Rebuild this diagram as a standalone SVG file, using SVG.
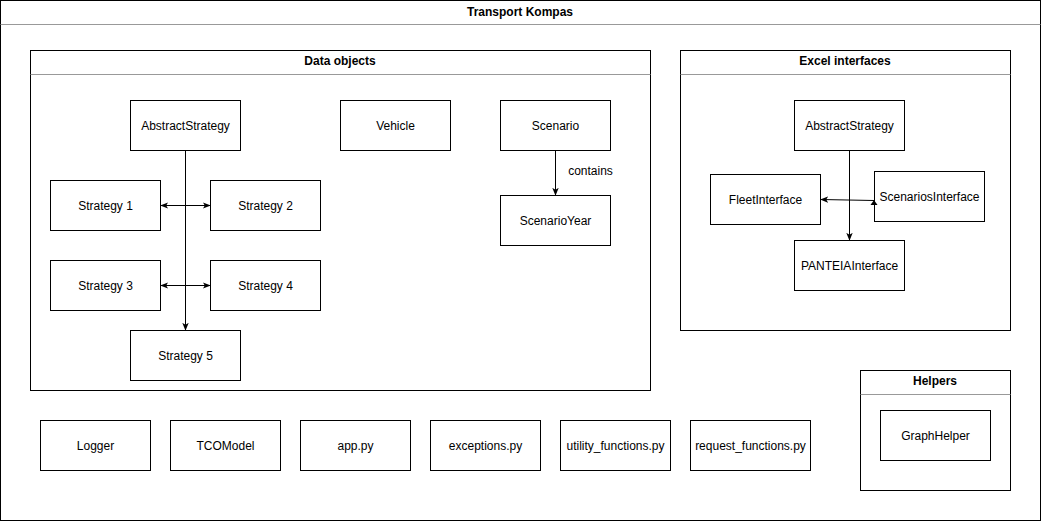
<svg xmlns="http://www.w3.org/2000/svg" width="1041" height="521" viewBox="0 0 1041 521">
<style>
.box{fill:#fff;stroke:#000;stroke-width:1}
.sep{stroke:#999;stroke-width:1}
.t{font-family:"Liberation Sans",Arial,sans-serif;font-size:12px;fill:#000;text-anchor:middle;dominant-baseline:central}
.b{font-weight:bold}
.c{fill:none;stroke:#000;stroke-width:1}
</style>
<defs>
<marker id="ah" viewBox="0 0 10 10" refX="9" refY="5" markerWidth="8" markerHeight="8" markerUnits="userSpaceOnUse" orient="auto-start-reverse">
<path d="M0,1 L10,5 L0,9 L2.5,5 Z" fill="#000"/>
</marker>
</defs>
<rect width="1041" height="521" fill="#fff"/>
<g id="transport-kompas">
<rect class="box" x="0.5" y="0.5" width="1040" height="520"/>
<line class="sep" x1="0.5" y1="24.5" x2="1040.5" y2="24.5"/>
<text class="t b" x="520" y="12">Transport Kompas</text>
</g>
<g id="data-objects">
<rect class="box" x="30.5" y="50.5" width="620" height="340"/>
<line class="sep" x1="30.5" y1="74.5" x2="650.5" y2="74.5"/>
<text class="t b" x="340" y="61">Data objects</text>
</g>
<g id="excel-interfaces">
<rect class="box" x="680.5" y="50.5" width="330" height="280"/>
<line class="sep" x1="680.5" y1="74.5" x2="1010.5" y2="74.5"/>
<text class="t b" x="845" y="61">Excel interfaces</text>
</g>
<g id="helpers">
<rect class="box" x="860.5" y="370.5" width="150" height="120"/>
<line class="sep" x1="860.5" y1="394.5" x2="1010.5" y2="394.5"/>
<text class="t b" x="935" y="381">Helpers</text>
</g>
<g id="abstract-strategy"><rect class="box" x="130.5" y="100.5" width="110" height="50"/><text class="t" x="185.5" y="126">AbstractStrategy</text></g>
<g id="vehicle"><rect class="box" x="340.5" y="100.5" width="110" height="50"/><text class="t" x="395.5" y="126">Vehicle</text></g>
<g id="scenario"><rect class="box" x="500.5" y="100.5" width="110" height="50"/><text class="t" x="555.5" y="126">Scenario</text></g>
<g id="scenario-year"><rect class="box" x="500.5" y="195.5" width="110" height="50"/><text class="t" x="555.5" y="221">ScenarioYear</text></g>
<g id="strategy-1"><rect class="box" x="50.5" y="180.5" width="110" height="50"/><text class="t" x="105.5" y="206">Strategy 1</text></g>
<g id="strategy-2"><rect class="box" x="210.5" y="180.5" width="110" height="50"/><text class="t" x="265.5" y="206">Strategy 2</text></g>
<g id="strategy-3"><rect class="box" x="50.5" y="260.5" width="110" height="50"/><text class="t" x="105.5" y="286">Strategy 3</text></g>
<g id="strategy-4"><rect class="box" x="210.5" y="260.5" width="110" height="50"/><text class="t" x="265.5" y="286">Strategy 4</text></g>
<g id="strategy-5"><rect class="box" x="130.5" y="330.5" width="110" height="50"/><text class="t" x="185.5" y="356">Strategy 5</text></g>
<g id="excel-abstract-strategy"><rect class="box" x="794.5" y="100.5" width="110" height="50"/><text class="t" x="849.5" y="126">AbstractStrategy</text></g>
<g id="fleet-interface"><rect class="box" x="710.5" y="174.5" width="110" height="50"/><text class="t" x="765.5" y="200">FleetInterface</text></g>
<g id="scenarios-interface"><rect class="box" x="874.5" y="171.5" width="110" height="50"/><text class="t" x="929.5" y="197">ScenariosInterface</text></g>
<g id="panteia-interface"><rect class="box" x="794.5" y="240.5" width="110" height="50"/><text class="t" x="849.5" y="266">PANTEIAInterface</text></g>
<g id="logger"><rect class="box" x="40.5" y="420.5" width="110" height="50"/><text class="t" x="95.5" y="446">Logger</text></g>
<g id="tco-model"><rect class="box" x="170.5" y="420.5" width="110" height="50"/><text class="t" x="225.5" y="446">TCOModel</text></g>
<g id="app-py"><rect class="box" x="300.5" y="420.5" width="110" height="50"/><text class="t" x="355.5" y="446">app.py</text></g>
<g id="exceptions-py"><rect class="box" x="430.5" y="420.5" width="110" height="50"/><text class="t" x="485.5" y="446">exceptions.py</text></g>
<g id="utility-functions-py"><rect class="box" x="560.5" y="420.5" width="110" height="50"/><text class="t" x="615.5" y="446">utility_functions.py</text></g>
<g id="request-functions-py"><rect class="box" x="690.5" y="420.5" width="120" height="50"/><text class="t" x="750.5" y="446">request_functions.py</text></g>
<g id="graph-helper"><rect class="box" x="880.5" y="410.5" width="110" height="50"/><text class="t" x="935.5" y="436">GraphHelper</text></g>
<g id="connectors">
<line class="c" x1="185.5" y1="150.5" x2="185.5" y2="330" marker-end="url(#ah)"/>
<line class="c" x1="161" y1="205.5" x2="210" y2="205.5" marker-start="url(#ah)" marker-end="url(#ah)"/>
<line class="c" x1="161" y1="285.5" x2="210" y2="285.5" marker-start="url(#ah)" marker-end="url(#ah)"/>
<line class="c" x1="555.5" y1="150.5" x2="555.5" y2="195" marker-end="url(#ah)"/>
<text class="t" x="590.5" y="171">contains</text>
<line class="c" x1="849.5" y1="150.5" x2="849.5" y2="240" marker-end="url(#ah)"/>
<line class="c" x1="874" y1="200.5" x2="821" y2="199.5" marker-end="url(#ah)"/>
<path d="M874,200 L870.5,205 L877.5,205 Z" fill="#000"/>
</g>
</svg>
